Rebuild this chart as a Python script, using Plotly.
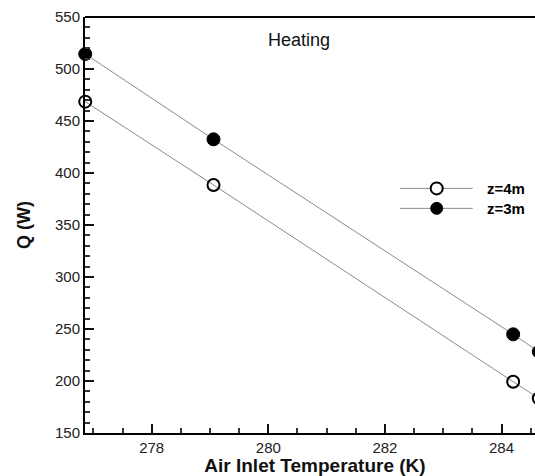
import plotly.graph_objects as go

# Air inlet temperature (K) and heat transfer rate Q (W) at two depths
temp_z4 = [276.86, 279.06, 284.20, 284.64]
q_z4 = [468.6, 388.5, 199.3, 183.4]

temp_z3 = [276.86, 279.06, 284.20, 284.64]
q_z3 = [514.4, 432.4, 244.9, 228.2]

x_ticks = [278, 280, 282, 284]
y_ticks = [150, 200, 250, 300, 350, 400, 450, 500, 550]

FONT = "Liberation Sans, Arial, sans-serif"
LINE_GREY = "#8a8a8a"

fig = go.Figure()

fig.add_trace(go.Scatter(
    x=temp_z4, y=q_z4, mode="lines+markers", name="z=4m",
    line=dict(color=LINE_GREY, width=1),
    marker=dict(symbol="circle-open", size=12, color="black", line=dict(width=2, color="black")),
    cliponaxis=False, showlegend=False,
))
fig.add_trace(go.Scatter(
    x=temp_z3, y=q_z3, mode="lines+markers", name="z=3m",
    line=dict(color=LINE_GREY, width=1),
    marker=dict(symbol="circle", size=13, color="black", line=dict(width=1, color="black")),
    cliponaxis=False, showlegend=False,
))

# Plot area spans 460 px; key positions below are fractions of it
PW = 460.0

def px(x):
    return (x - 85) / PW

# Hand-drawn key: short line with the series marker, then a bold label
key_rows = [("z=4m", 0.588, "white", 2), ("z=3m", 0.540, "black", 1)]
for label, ky, fill, lw in key_rows:
    fig.add_shape(type="line", xref="paper", yref="paper",
                  x0=px(400), x1=px(472.7), y0=ky, y1=ky,
                  line=dict(color=LINE_GREY, width=1))
    fig.add_shape(type="circle", xref="paper", yref="paper",
                  xsizemode="pixel", ysizemode="pixel",
                  xanchor=px(436.7), yanchor=ky,
                  x0=-6, x1=6, y0=-6, y1=6,
                  fillcolor=fill, line=dict(color="black", width=lw))
    fig.add_annotation(x=px(485), y=ky, xref="paper", yref="paper",
                       text=f"<b>{label}</b>", showarrow=False,
                       xanchor="left", yanchor="middle",
                       font=dict(family=FONT, size=15, color="black"))

# Top frame line (the frame is open on the right)
fig.add_shape(type="line", xref="paper", yref="paper",
              x0=0, x1=1, y0=1, y1=1, line=dict(color="black", width=2))

fig.add_annotation(x=px(299), y=0.9447, xref="paper", yref="paper",
                   text="Heating", showarrow=False,
                   xanchor="center", yanchor="middle",
                   font=dict(family=FONT, size=18, color="#111"))

fig.update_layout(
    width=545, height=476,
    margin=dict(l=85, r=0, t=17, b=43),
    paper_bgcolor="white", plot_bgcolor="white",
    font=dict(family=FONT, color="#222"),
    xaxis=dict(
        range=[276.856, 284.746],
        tickvals=x_ticks, ticktext=[str(v) for v in x_ticks],
        ticks="inside", ticklen=9, tickwidth=2, tickcolor="#111",
        minor=dict(dtick=0.5, tick0=276, ticks="inside", ticklen=5, tickwidth=1.5, tickcolor="#333"),
        showline=True, linecolor="black", linewidth=2,
        showgrid=False, zeroline=False,
        tickfont=dict(family=FONT, size=15, color="#222"),
        title=dict(text="<b>Air Inlet Temperature (K)</b>", standoff=5,
                   font=dict(family=FONT, size=19, color="#111")),
    ),
    yaxis=dict(
        range=[150, 550],
        tickvals=y_ticks, ticktext=[str(v) for v in y_ticks],
        ticks="inside", ticklen=9, tickwidth=2, tickcolor="#111",
        minor=dict(dtick=10, tick0=150, ticks="inside", ticklen=5, tickwidth=1.5, tickcolor="#333"),
        showline=True, linecolor="black", linewidth=2,
        showgrid=False, zeroline=False,
        tickfont=dict(family=FONT, size=15, color="#222"),
        title=dict(text="<b>Q (W)</b>", standoff=20,
                   font=dict(family=FONT, size=18, color="#111")),
    ),
)

fig.write_html("out.html", post_script="document.body.style.overflow='hidden';")
